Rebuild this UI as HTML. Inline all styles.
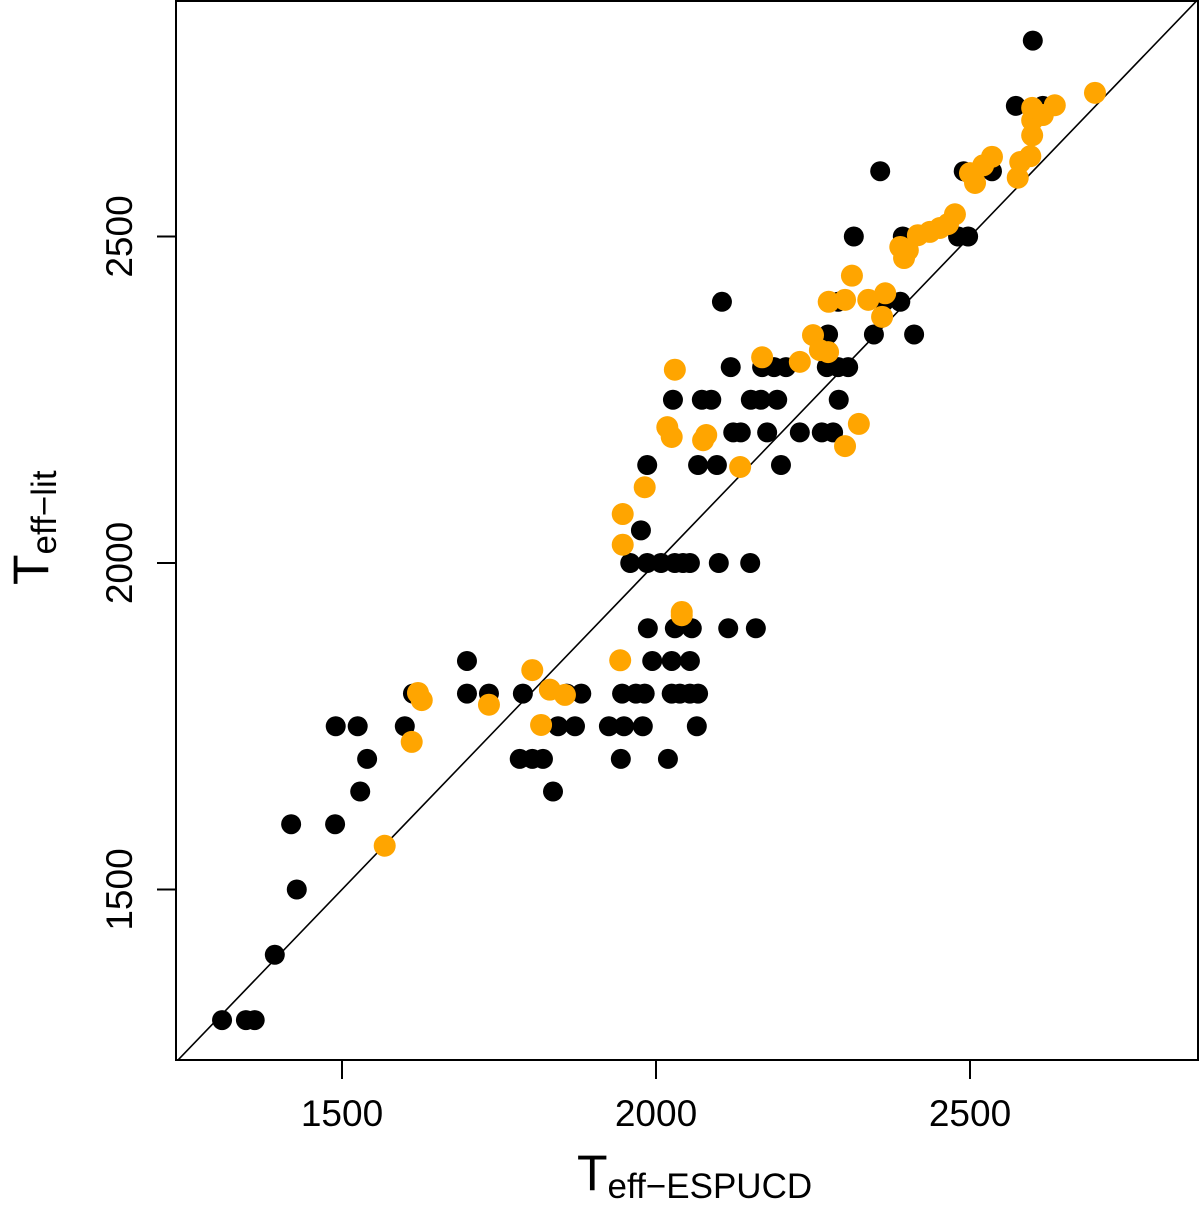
<!DOCTYPE html>
<html><head><meta charset="utf-8"><style>
html,body{margin:0;padding:0;background:#fff;}
svg{display:block;font-family:"Liberation Sans","DejaVu Sans",sans-serif;}
</style></head><body>
<svg id="chart" width="1200" height="1211" viewBox="0 0 1200 1211" xmlns="http://www.w3.org/2000/svg">
<defs><clipPath id="clip"><rect x="176" y="1" width="1022" height="1059"/></clipPath></defs>
<rect x="176" y="1" width="1022" height="1059" fill="none" stroke="#000" stroke-width="2"/>
<g id="marks" clip-path="url(#clip)"></g>
<g id="axes"></g>
<text x="577" y="1190" font-size="50">T<tspan font-size="35" dy="8">eff−ESPUCD</tspan></text>
<text transform="translate(48,585) rotate(-90)" font-size="50">T<tspan font-size="35" dy="8">eff−lit</tspan></text>
</svg>
<script>
const blackX=[1309,1347,1361,1393,1428,1419,1489,1490,1525,1529,1540,1600,1613,1621,1699,1699,1734,1788,1783,1803,1820,1836,1844,1858,1871,1881,1925,1944,1946,1943,1949,1968,1979,1982,1994,1987,1959,1986,2008,2030,2043,2054,2025,2025,2038,2054,2054,2067,2019,2065,2030,2057,2100,2115,2150,2159,1976,1986,2027,2073,2088,2067,2097,2123,2135,2105,2119,2151,2167,2177,2193,2199,2169,2188,2207,2229,2264,2282,2272,2290,2291,2306,2315,2274,2357,2347,2363,2389,2393,2411,2481,2497,2490,2535,2573,2600,2616,2290];
const blackY=[1300,1300,1300,1400,1500,1600,1600,1750,1750,1650,1700,1750,1800,1800,1850,1800,1800,1800,1700,1700,1700,1650,1750,1800,1750,1800,1750,1700,1800,1850,1750,1800,1750,1800,1850,1900,2000,2000,2000,2000,2000,2000,1850,1800,1800,1850,1800,1800,1700,1750,1900,1900,2000,1900,2000,1900,2050,2150,2250,2250,2250,2150,2150,2200,2200,2400,2300,2250,2250,2200,2250,2150,2300,2300,2300,2200,2200,2200,2300,2300,2250,2300,2500,2350,2600,2350,2400,2400,2500,2350,2500,2500,2600,2600,2700,2800,2700,2400];
const orangeX=[1568,1611,1621,1627,1734,1803,1817,1831,1855,1943,1947,1947,1982,2030,2041,2041,2018,2025,2075,2080,2134,2169,2229,2250,2261,2274,2275,2301,2301,2323,2312,2338,2365,2360,2389,2395,2401,2417,2436,2452,2465,2476,2500,2508,2521,2535,2580,2576,2596,2599,2599,2599,2616,2635,2699];
const orangeY=[1567,1726,1801,1790,1783,1836,1752,1806,1798,1851,2028,2075,2116,2296,1925,1920,2208,2193,2188,2196,2147,2315,2308,2349,2326,2323,2400,2403,2179,2213,2440,2403,2413,2377,2484,2467,2479,2502,2507,2513,2519,2534,2597,2582,2609,2622,2614,2590,2623,2655,2678,2697,2686,2701,2720];
const xTicks=[1500,2000,2500];
const yTicks=[1500,2000,2500];
const NS="http://www.w3.org/2000/svg";
function sx(v){return 342+(v-1500)*0.628;}
function sy(v){return 563-(v-2000)*0.653;}
function mk(t,a,p){const e=document.createElementNS(NS,t);for(const k in a)e.setAttribute(k,a[k]);p.appendChild(e);return e;}
const marks=document.getElementById('marks'),axes=document.getElementById('axes');
const d=mk('line',{x1:sx(1200),y1:sy(1200),x2:sx(2900),y2:sy(2900),stroke:'#000','stroke-width':1.6},marks);


blackX.forEach((v,i)=>{const c=mk('circle',{cx:sx(v),cy:sy(blackY[i]),r:10,fill:'#000'},marks);

});
orangeX.forEach((v,i)=>{const c=mk('circle',{cx:sx(v),cy:sy(orangeY[i]),r:11,fill:'#FFA500'},marks);

});
xTicks.forEach(v=>{const l=mk('line',{x1:sx(v),x2:sx(v),y1:1060,y2:1079,stroke:'#000','stroke-width':2},axes);


const t=mk('text',{x:sx(v),y:1126,'font-size':37,'text-anchor':'middle'},axes);t.textContent=v;

});
yTicks.forEach(v=>{const l=mk('line',{x1:157,x2:176,y1:sy(v),y2:sy(v),stroke:'#000','stroke-width':2},axes);


const t=mk('text',{x:0,y:0,'font-size':37,'text-anchor':'middle',transform:'translate(132,'+sy(v)+') rotate(-90)'},axes);t.textContent=v;

});
</script>
</body></html>
